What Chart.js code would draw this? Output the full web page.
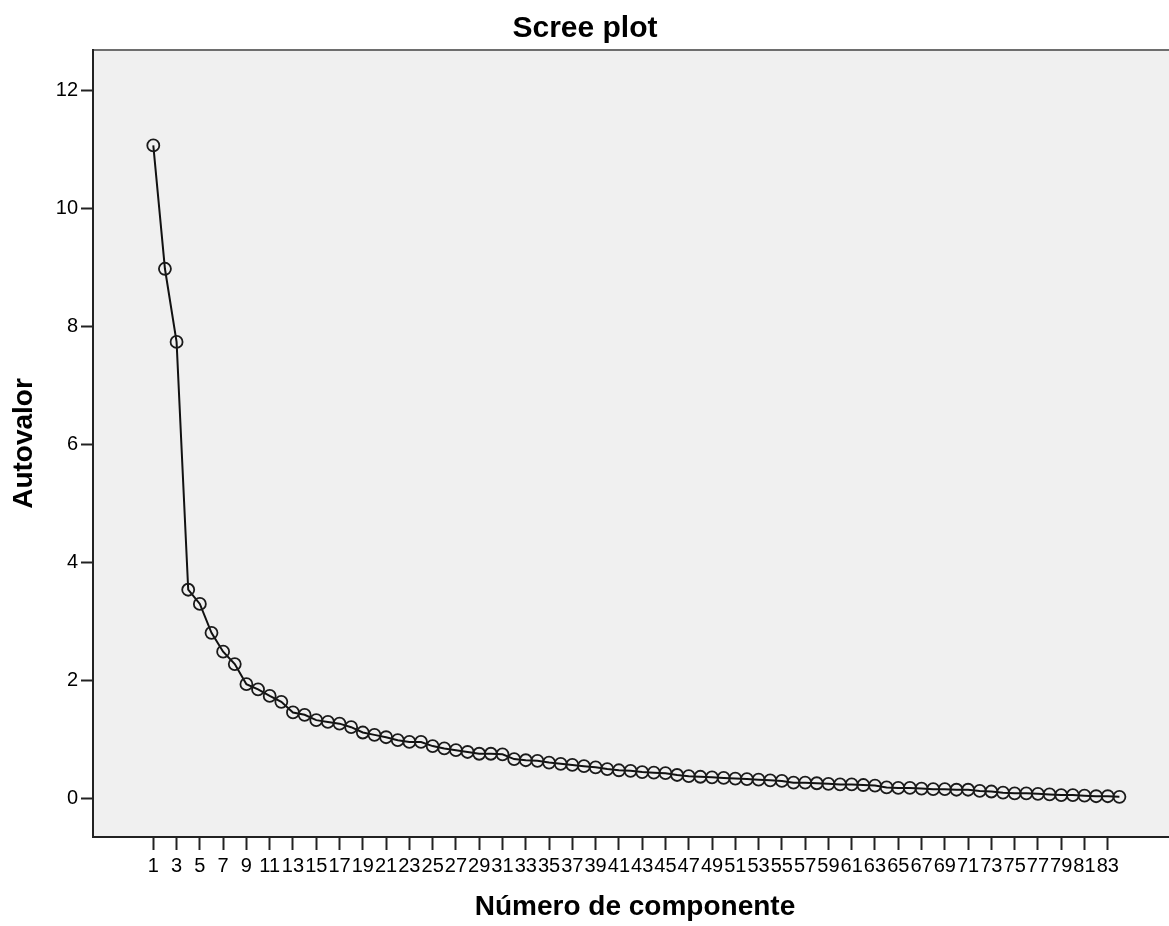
<!DOCTYPE html>
<html>
<head>
<meta charset="utf-8">
<script src="https://cdn.jsdelivr.net/npm/chart.js@4.4.1/dist/chart.umd.min.js"></script>
<style>
html,body{margin:0;padding:0;background:#fff;}
canvas{display:block;}
</style>
</head>
<body>
<canvas id="c" width="1169" height="926"></canvas>
<script>
const components = [1,2,3,4,5,6,7,8,9,10,11,12,13,14,15,16,17,18,19,20,21,22,23,24,25,26,27,28,29,30,31,32,33,34,35,36,37,38,39,40,41,42,43,44,45,46,47,48,49,50,51,52,53,54,55,56,57,58,59,60,61,62,63,64,65,66,67,68,69,70,71,72,73,74,75,76,77,78,79,80,81,82,83,84];
const eigenvalues = [11.06,8.97,7.73,3.53,3.29,2.80,2.48,2.27,1.93,1.84,1.73,1.63,1.45,1.41,1.32,1.29,1.26,1.20,1.11,1.07,1.03,0.98,0.95,0.95,0.88,0.84,0.81,0.78,0.75,0.75,0.74,0.66,0.64,0.63,0.60,0.58,0.56,0.54,0.52,0.49,0.47,0.46,0.44,0.43,0.42,0.39,0.37,0.36,0.35,0.34,0.33,0.32,0.31,0.30,0.29,0.26,0.26,0.25,0.24,0.23,0.23,0.22,0.21,0.18,0.17,0.17,0.16,0.15,0.15,0.14,0.14,0.12,0.11,0.09,0.08,0.08,0.07,0.06,0.05,0.05,0.04,0.03,0.03,0.02];
const xTickValues = [1,3,5,7,9,11,13,15,17,19,21,23,25,27,29,31,33,35,37,39,41,43,45,47,49,51,53,55,57,59,61,63,65,67,69,71,73,75,77,79,81,83];
const yTickValues = [0,2,4,6,8,10,12];
const titleText = "Scree plot";
const xTitleText = "Número de componente";
const yTitleText = "Autovalor";

const FONT = '"Liberation Sans", Arial, sans-serif';

const frame = {
  id: 'frame',
  beforeDraw(chart) {
    const {ctx, chartArea: a} = chart;
    ctx.save();
    ctx.fillStyle = '#f0f0f0';
    ctx.fillRect(a.left, a.top, a.right - a.left, a.bottom - a.top);
    ctx.strokeStyle = '#6e6e6e';
    ctx.lineWidth = 2;
    ctx.beginPath();
    ctx.moveTo(a.left, a.top);
    ctx.lineTo(a.right, a.top);
    ctx.stroke();
    ctx.restore();
  },
  afterDraw(chart) {
    const {ctx, chartArea: a} = chart;
    ctx.save();
    ctx.fillStyle = '#000';
    ctx.textAlign = 'center';
    ctx.textBaseline = 'alphabetic';
    ctx.font = 'bold 30px ' + FONT;
    ctx.fillText(titleText, 585, 37);
    ctx.font = 'bold 28px ' + FONT;
    ctx.fillText(xTitleText, (a.left + a.right) / 2 + 4, 915);
    ctx.translate(32, (a.top + a.bottom) / 2);
    ctx.rotate(-Math.PI / 2);
    ctx.fillText(yTitleText, 0, 0);
    ctx.restore();
  }
};

new Chart(document.getElementById('c'), {
  type: 'line',
  data: {
    datasets: [{
      data: components.map((c, i) => ({x: c, y: eigenvalues[i]})),
      borderColor: '#111',
      borderWidth: 2,
      tension: 0,
      fill: false,
      pointRadius: 6,
      pointBorderWidth: 1.8,
      pointBorderColor: '#1a1a1a',
      pointBackgroundColor: 'rgba(0,0,0,0)'
    }]
  },
  options: {
    responsive: false,
    animation: false,
    events: [],
    layout: {autoPadding: false, padding: {top: 50, right: 0, left: 0, bottom: 0}},
    plugins: {legend: {display: false}, title: {display: false}, tooltip: {enabled: false}},
    scales: {
      x: {
        type: 'linear',
        min: -4.18,
        max: 88.26,
        afterBuildTicks(scale) { scale.ticks = xTickValues.map(v => ({value: v})); },
        afterFit(scale) { scale.height = 89; },
        grid: {display: true, drawOnChartArea: false, drawTicks: true, tickLength: 13, tickWidth: 2, tickColor: '#222'},
        border: {display: true, color: '#222', width: 2},
        ticks: {
          autoSkip: false, maxRotation: 0, minRotation: 0, padding: 4,
          color: '#000', font: {family: FONT, size: 20},
          callback: v => String(v)
        }
      },
      y: {
        type: 'linear',
        min: -0.661,
        max: 12.678,
        afterBuildTicks(scale) { scale.ticks = yTickValues.map(v => ({value: v})); },
        afterFit(scale) { scale.width = 93; },
        grid: {display: true, drawOnChartArea: false, drawTicks: true, tickLength: 12, tickWidth: 2, tickColor: '#222'},
        border: {display: true, color: '#222', width: 2},
        ticks: {
          padding: 3, color: '#000', font: {family: FONT, size: 20},
          callback: v => String(v)
        }
      }
    }
  },
  plugins: [frame]
});
</script>
</body>
</html>
